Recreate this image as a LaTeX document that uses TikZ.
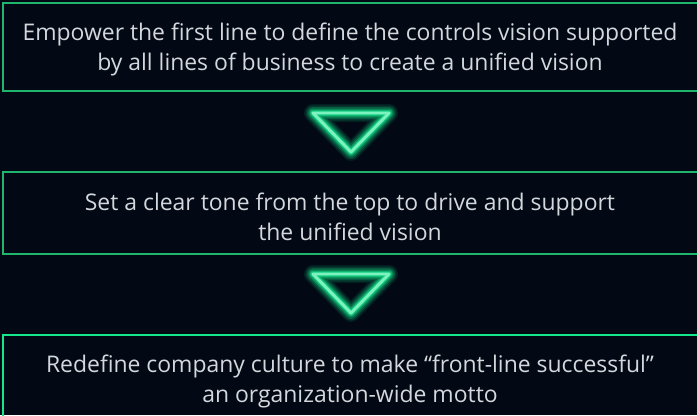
\documentclass[tikz,border=0pt]{standalone}
\usepackage{fontspec}
\setmainfont{Open Sans}
\definecolor{bg}{HTML}{020814}
\definecolor{boxline}{HTML}{1FB56C}
\definecolor{glow}{HTML}{14E68C}
\definecolor{txt}{HTML}{D4D7DC}
\tikzset{
  panel/.style={draw=boxline, line width=1.5pt},
  label/.style={text=txt, align=center, font=\fontsize{17.2}{22.5}\selectfont, inner sep=0pt, anchor=base},
}
\newcommand{\glowtri}[2]{%
  \foreach \w/\o in {18/0.1, 15/0.14, 12/0.2, 9/0.3, 6.5/0.45, 4.5/0.6}{
    \draw[glow, line width=\w*0.75pt, opacity=\o, line join=round, line cap=round]
      (#1-38,#2) -- (#1+38,#2) -- (#1,#2+39) -- cycle;
  }
  \draw[glow!55!white, line width=2.2pt, line join=round]
      (#1-38,#2) -- (#1+38,#2) -- (#1,#2+39) -- cycle;
}
\begin{document}
\begin{tikzpicture}[x=0.75pt, y=-0.75pt]
\useasboundingbox (0,0) rectangle (697,415);
\clip (0,0) rectangle (697,415);
\fill[bg] (0,0) rectangle (697,415);
\node[panel, minimum width=710*0.75pt, minimum height=88*0.75pt, anchor=north west, inner sep=0pt] (b1) at (2,2) {};
\node[panel, minimum width=710*0.75pt, minimum height=82*0.75pt, anchor=north west, inner sep=0pt] (b2) at (2,171) {};
\node[panel, draw=glow, minimum width=710*0.75pt, minimum height=100*0.75pt, anchor=north west, inner sep=0pt] (b3) at (2,334) {};
\node[label] (t1) at (350,70) {Empower the first line to define the controls vision supported\\by all lines of business to create a unified vision};
\node[label] (t2) at (350,240) {Set a clear tone from the top to drive and support\\the unified vision};
\node[label] (t3) at (350,402) {Redefine company culture to make “front-line successful”\\an organization-wide motto};
\glowtri{351}{113}
\glowtri{351}{274}
\end{tikzpicture}
\end{document}
